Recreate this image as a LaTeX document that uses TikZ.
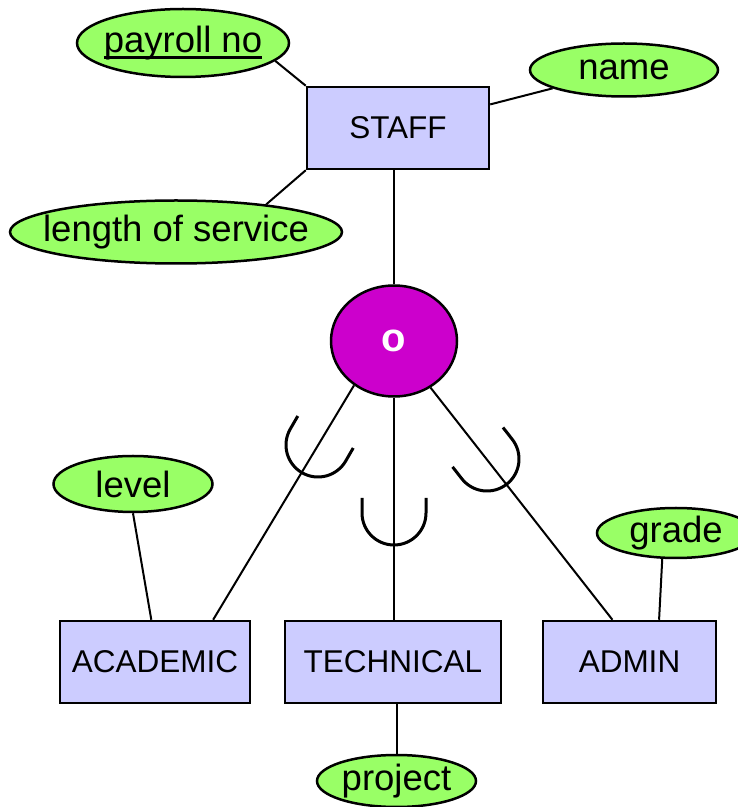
\documentclass[tikz,border=0pt]{standalone}
\usepackage{fontspec}
\setmainfont{Liberation Sans}
\usetikzlibrary{shapes.geometric}

\definecolor{attrgreen}{HTML}{99FF66}
\definecolor{entityblue}{HTML}{CCCCFF}
\definecolor{disjpurple}{HTML}{CC00CC}

\newcommand{\subsetarc}[3]{
    \draw[line width=3pt, shift={(#1,#2)}, rotate=#3] (-32,15) -- (-32,0) arc (180:360:32) -- (32,15);
}
\newcommand{\keyattr}[1]{\setbox0\hbox{#1}\rlap{\copy0}\rule[-6.5pt]{\wd0}{2.5pt}}

\begin{document}
\begin{tikzpicture}[x=1pt, y=1pt]
            \tikzstyle{entity}=[rectangle,draw,line width=2.5pt,fill=entityblue,minimum height=82pt,font=\fontsize{31.5}{36}\selectfont]
            \tikzstyle{attr}=[ellipse,draw,line width=2.5pt,fill=attrgreen,inner xsep=-20pt,inner ysep=-2pt,font=\fontsize{36.5}{42}\selectfont]
            \tikzstyle{disjoint}=[ellipse,draw,line width=2.5pt,fill=disjpurple,text=white,minimum width=126pt,minimum height=111pt,font=\fontsize{40}{46}\selectfont\bfseries]
            \tikzstyle{link}=[line width=2pt]

            \useasboundingbox (0,0) rectangle (738,807);

            \node[entity, minimum width=182pt] (STAFF) at (398,679) {STAFF};
            \node[attr, minimum width=212pt, minimum height=68pt] (payroll) at (183,764) {\keyattr{payroll no}};
            \node[attr, minimum width=188pt, minimum height=53pt] (name) at (624,737) {name};
            \node[attr, minimum width=332pt, minimum height=63pt] (length) at (176,575) {length of service};

            \node[disjoint] (d) at (394,466) {o};

            \node[entity, minimum width=190pt] (ACADEMIC) at (155,145) {ACADEMIC};
            \node[entity, minimum width=216pt] (TECHNICAL) at (393,145) {TECHNICAL};
            \node[entity, minimum width=173pt] (ADMIN) at (629.5,145) {ADMIN};

            \node[attr, minimum width=159pt, minimum height=56pt] (level) at (133,323) {level};
            \node[attr, minimum width=158pt, minimum height=50pt] (grade) at (676,274) {grade};
            \node[attr, minimum width=159pt, minimum height=52pt] (project) at (396.5,26) {project};

            \draw[link] (payroll.-11) -- (STAFF.north west);
            \draw[link] (name) -- (STAFF);
            \draw[link] (length.17) -- (STAFF.south west);
            \draw[link] (d.north |- STAFF.south) -- (d.north);
            \draw[link] (d.228) -- (ACADEMIC.36);
            \draw[link] (d.south) -- (d.south |- TECHNICAL.north);
            \draw[link] (d) -- (ADMIN.112);
            \draw[link] (level.south) -- (ACADEMIC.95);
            \draw[link] (grade.242) -- (ADMIN.55);
            \draw[link] (project.north) -- (project.north |- TECHNICAL.south);

            \subsetarc{318}{362}{-30}
            \subsetarc{394}{294}{0}
            \subsetarc{487}{348}{38}
        \end{tikzpicture}
\end{document}
